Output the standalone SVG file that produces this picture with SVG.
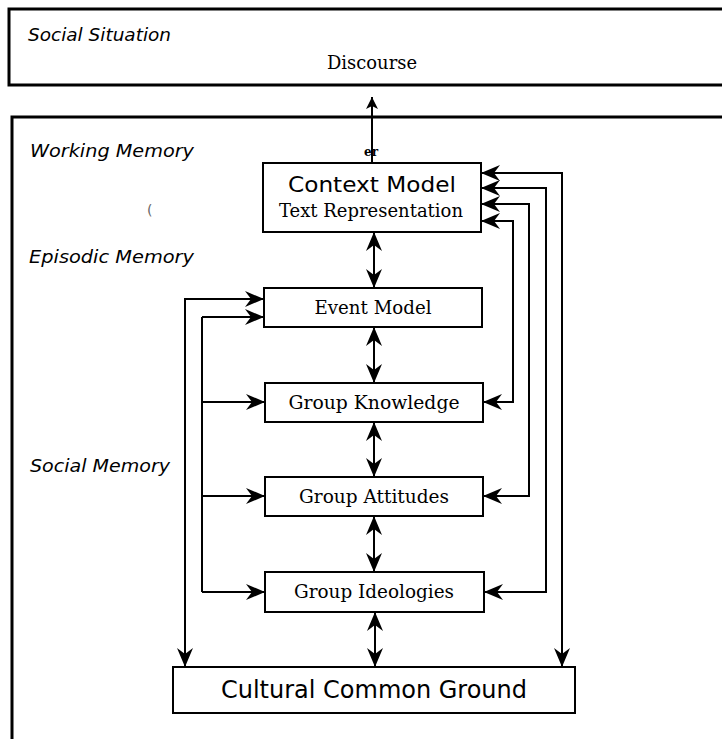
<svg xmlns="http://www.w3.org/2000/svg" width="722" height="739" viewBox="0 0 722 739">
<style>
.frame{fill:none;stroke:#000;stroke-width:3}
.box{fill:#fff;stroke:#000;stroke-width:2}
.con{fill:none;stroke:#000;stroke-width:2}
.lbl{font-family:"DejaVu Sans","Liberation Sans",sans-serif;font-style:italic;font-size:17px;fill:#000}
.sans{font-family:"DejaVu Sans","Liberation Sans",sans-serif;fill:#000;text-anchor:middle}
.serif{font-family:"DejaVu Serif","Liberation Serif",serif;font-size:18.5px;fill:#000;text-anchor:middle}
</style>
<defs>
<marker id="ah" viewBox="-20 -9 21 18" refX="0" refY="0" markerWidth="21" markerHeight="18" markerUnits="userSpaceOnUse" orient="auto-start-reverse">
<path d="M0,0 L-19,-8 L-13,0 L-19,8 Z" fill="#000"/>
</marker>
<marker id="ahs" viewBox="-13 -7 14 14" refX="0" refY="0" markerWidth="14" markerHeight="14" markerUnits="userSpaceOnUse" orient="auto-start-reverse">
<path d="M0,0 L-12,-6 L-9,0 L-12,6 Z" fill="#000"/>
</marker>
</defs>
<rect width="722" height="739" fill="#fff"/>

<g id="social-situation">
<path class="frame" d="M722,9 L9,9 L9,85 L722,85"/>
<text class="lbl" x="28" y="41" textLength="143" lengthAdjust="spacingAndGlyphs">Social Situation</text>
<text class="serif" x="372" y="69" textLength="90" lengthAdjust="spacingAndGlyphs">Discourse</text>
</g>

<g id="memory">
<path class="frame" d="M722,117 L12,117 L12,739"/>
<text class="lbl" x="30" y="157" textLength="164" lengthAdjust="spacingAndGlyphs">Working Memory</text>
<text class="lbl" x="29" y="263" textLength="165" lengthAdjust="spacingAndGlyphs">Episodic Memory</text>
<text class="lbl" x="30" y="472" textLength="140" lengthAdjust="spacingAndGlyphs">Social Memory</text>
<text x="147" y="215" font-family="DejaVu Sans, sans-serif" font-size="14" fill="#666">(</text>
</g>

<g id="connectors">
<path class="con" d="M372,163 L372,97" marker-end="url(#ahs)"/>
<path class="con" d="M374,232 L374,288" marker-start="url(#ah)" marker-end="url(#ah)"/>
<path class="con" d="M374,327 L374,383" marker-start="url(#ah)" marker-end="url(#ah)"/>
<path class="con" d="M374,422 L374,477" marker-start="url(#ah)" marker-end="url(#ah)"/>
<path class="con" d="M374,516 L374,572" marker-start="url(#ah)" marker-end="url(#ah)"/>
<path class="con" d="M375,612 L375,667" marker-start="url(#ah)" marker-end="url(#ah)"/>
<path class="con" d="M264,299 L185,299 L185,667" marker-start="url(#ah)" marker-end="url(#ah)"/>
<path class="con" d="M202,317 L202,592"/>
<path class="con" d="M202,317 L264,317" marker-end="url(#ah)"/>
<path class="con" d="M202,402 L265,402" marker-end="url(#ah)"/>
<path class="con" d="M202,496 L265,496" marker-end="url(#ah)"/>
<path class="con" d="M202,592 L265,592" marker-end="url(#ah)"/>
<path class="con" d="M481,221 L513,221 L513,402 L483,402" marker-start="url(#ah)" marker-end="url(#ah)"/>
<path class="con" d="M481,204 L529,204 L529,496 L483,496" marker-start="url(#ah)" marker-end="url(#ah)"/>
<path class="con" d="M481,188 L546,188 L546,592 L484,592" marker-start="url(#ah)" marker-end="url(#ah)"/>
<path class="con" d="M481,173 L562,173 L562,667" marker-start="url(#ah)" marker-end="url(#ah)"/>
</g>
<text x="371" y="156" font-family="DejaVu Serif, serif" font-size="12" font-weight="bold" text-anchor="middle" fill="#000">er</text>

<g id="context-model">
<rect class="box" x="263" y="163" width="218" height="69"/>
<text class="sans" x="372" y="192" font-size="22" textLength="168" lengthAdjust="spacingAndGlyphs">Context Model</text>
<text class="serif" x="371" y="217" textLength="184" lengthAdjust="spacingAndGlyphs">Text Representation</text>
</g>

<g id="event-model">
<rect class="box" x="264" y="288" width="218" height="39"/>
<text class="serif" x="373" y="314" textLength="117" lengthAdjust="spacingAndGlyphs">Event Model</text>
</g>

<g id="group-knowledge">
<rect class="box" x="265" y="383" width="218" height="39"/>
<text class="serif" x="374" y="409" textLength="171" lengthAdjust="spacingAndGlyphs">Group Knowledge</text>
</g>

<g id="group-attitudes">
<rect class="box" x="265" y="477" width="218" height="39"/>
<text class="serif" x="374" y="503" textLength="150" lengthAdjust="spacingAndGlyphs">Group Attitudes</text>
</g>

<g id="group-ideologies">
<rect class="box" x="265" y="572" width="219" height="40"/>
<text class="serif" x="374" y="598" textLength="160" lengthAdjust="spacingAndGlyphs">Group Ideologies</text>
</g>

<g id="cultural-common-ground">
<rect class="box" x="173" y="667" width="402" height="46"/>
<text class="sans" x="374" y="698" font-size="24" textLength="306" lengthAdjust="spacingAndGlyphs">Cultural Common Ground</text>
</g>
</svg>
